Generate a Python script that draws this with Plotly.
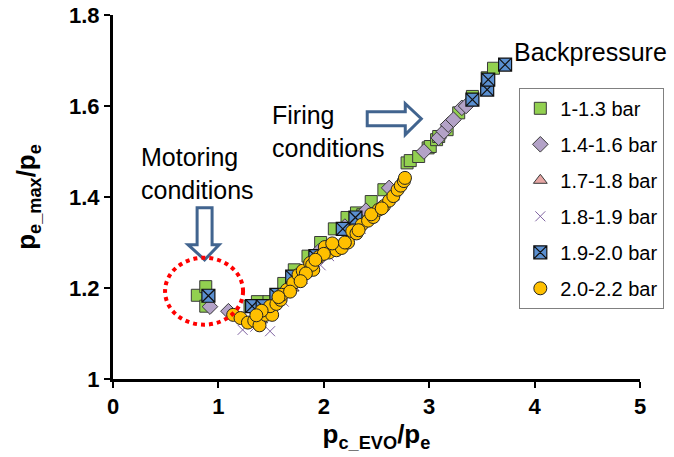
import plotly.graph_objects as go

# ---- data ----
names = ["1-1.3 bar", "1.4-1.6 bar", "1.7-1.8 bar", "1.8-1.9 bar", "1.9-2.0 bar", "2.0-2.2 bar"]

sq_x = [0.80, 0.88, 0.88, 1.30, 1.37, 1.48, 1.62, 1.72, 1.85, 1.97, 2.10, 2.22, 2.31, 2.37, 2.45, 2.57,
        2.79, 2.82, 2.90, 2.99, 3.01, 3.07, 3.09, 3.17, 3.28, 3.41, 3.55, 3.61]
sq_y = [1.184, 1.203, 1.160, 1.160, 1.170, 1.170, 1.210, 1.240, 1.270, 1.300, 1.330, 1.355, 1.365, 1.361, 1.390, 1.416,
        1.475, 1.480, 1.489, 1.508, 1.511, 1.526, 1.533, 1.548, 1.585, 1.621, 1.662, 1.683]

dm_x = [0.92, 1.095, 1.35, 1.55, 1.75, 1.95, 2.20, 2.40, 2.62, 2.95, 3.09, 3.14, 3.18, 3.23, 3.31, 3.35]
dm_y = [1.159, 1.149, 1.150, 1.170, 1.220, 1.280, 1.335, 1.370, 1.420, 1.500, 1.530, 1.544, 1.559, 1.570, 1.596, 1.600]

tr_x = [1.40, 1.70, 2.05, 2.40, 2.65]
tr_y = [1.130, 1.200, 1.280, 1.350, 1.400]

xx_x = [1.23, 1.35, 1.49, 1.62, 1.80, 1.97, 2.05, 2.35, 2.55]
xx_y = [1.108, 1.115, 1.105, 1.170, 1.220, 1.250, 1.270, 1.330, 1.380]

st_x = [0.905, 1.32, 1.42, 1.55, 1.70, 1.92, 2.18, 2.30, 3.41, 3.55, 3.56, 3.72]
st_y = [1.183, 1.160, 1.160, 1.185, 1.225, 1.270, 1.330, 1.355, 1.614, 1.636, 1.658, 1.691]

ci_x = [1.14, 1.21, 1.28, 1.34, 1.39, 1.45, 1.51, 1.49, 1.55, 1.59, 1.65, 1.71, 1.76, 1.80, 1.87, 1.90, 1.89,
        1.95, 2.01, 2.05, 2.12, 2.17, 2.23, 2.27, 2.31, 2.36, 2.42, 2.47, 2.52, 2.57, 2.62, 2.66, 2.70, 2.73,
        2.76, 2.77, 1.41, 1.60, 1.83, 2.00, 2.20, 2.45, 1.68, 1.78, 1.92, 2.08, 2.33, 2.55, 1.57, 1.36]
ci_y = [1.141, 1.134, 1.124, 1.128, 1.118, 1.141, 1.141, 1.160, 1.165, 1.174, 1.196, 1.211, 1.229, 1.238, 1.255,
        1.240, 1.251, 1.268, 1.290, 1.278, 1.283, 1.288, 1.300, 1.325, 1.320, 1.339, 1.348, 1.356, 1.372, 1.380,
        1.392, 1.402, 1.416, 1.425, 1.435, 1.442, 1.150, 1.185, 1.232, 1.275, 1.300, 1.362, 1.192, 1.215, 1.262,
        1.298, 1.327, 1.375, 1.180, 1.140]

x_ticks = [0, 1, 2, 3, 4, 5]
y_ticks = [1, 1.2, 1.4, 1.6, 1.8]

edge = dict(color="#3a3a3a", width=1)
series = [
    (sq_x, sq_y, dict(symbol="square", size=12, color="#92D050", line=edge)),
    (dm_x, dm_y, dict(symbol="diamond", size=12, color="#B3A2C7", line=edge)),
    (tr_x, tr_y, dict(symbol="triangle-up", size=12, color="#E6A6A4", line=edge)),
    (xx_x, xx_y, dict(symbol="x-thin", size=10, color="#8064A2", line=dict(color="#8064A2", width=1))),
    (st_x, st_y, dict(symbol="square-x", size=13, color="#5A8FD0", line=dict(color="#111111", width=1.2))),
    (ci_x, ci_y, dict(symbol="circle", size=13, color="#FFC000", line=dict(color="#222222", width=1))),
]

fig = go.Figure()
for i, (xs, ys, mk) in enumerate(series):
    fig.add_trace(go.Scatter(x=xs, y=ys, mode="markers", name=names[i], marker=mk,
                             legendgroup=f"g{i}"))

arrow_col = "#41648F"
# hollow arrow pointing right (Firing conditions)
fig.add_shape(type="path", xref="x", yref="y",
              path="M 2.412,1.5567 L 2.773,1.5567 L 2.773,1.537 L 2.925,1.572 L 2.773,1.605 L 2.773,1.5875 L 2.412,1.5875 Z",
              line=dict(color=arrow_col, width=3), fillcolor="white")
# hollow arrow pointing down (Motoring conditions)
fig.add_shape(type="path", xref="x", yref="y",
              path="M 0.798,1.3765 L 0.940,1.3765 L 0.940,1.2952 L 1.007,1.2952 L 0.869,1.262 L 0.712,1.2952 L 0.798,1.2952 Z",
              line=dict(color=arrow_col, width=3), fillcolor="white")
# red dotted ellipse
fig.add_shape(type="circle", xref="x", yref="y", x0=0.494, x1=1.234, y0=1.1194, y1=1.2666,
              line=dict(color="#FF0000", width=4, dash="dot"))

txt = dict(family="Arial, Liberation Sans", size=25, color="black")
fig.add_annotation(x=0.247, y=1.451, xref="x", yref="y", text="Motoring<br>conditions", showarrow=False,
                   xanchor="left", yanchor="middle", align="left", font=txt)
fig.add_annotation(x=1.491, y=1.5436, xref="x", yref="y", text="Firing<br>conditions", showarrow=False,
                   xanchor="left", yanchor="middle", align="left", font=txt)
fig.add_annotation(x=3.789, y=1.7193, xref="x", yref="y", text="Backpressure", showarrow=False,
                   xanchor="left", yanchor="middle", align="left", font=txt)

fig.update_layout(
    width=674, height=457,
    margin=dict(l=113, r=34, t=15, b=78, autoexpand=False),
    paper_bgcolor="white", plot_bgcolor="white",
    font=dict(family="Arial, Liberation Sans", color="black"),
    legend=dict(x=0.771, y=0.80, xanchor="left", yanchor="top",
                bordercolor="#808080", borderwidth=1, bgcolor="white",
                font=dict(size=20), tracegroupgap=7, traceorder="grouped"),
    xaxis=dict(range=[0, 5], tickvals=x_ticks, ticktext=[f"<b>{v}</b>" for v in x_ticks],
               showgrid=False, zeroline=False, showline=True, linecolor="black", linewidth=3,
               ticks="outside", ticklen=6, tickwidth=2, tickcolor="black",
               tickfont=dict(size=22), automargin=False,
               title=dict(text="<b>p<sub>c_EVO</sub>/p<sub>e</sub></b>", font=dict(size=26), standoff=4)),
    yaxis=dict(range=[1, 1.8], tickvals=y_ticks, ticktext=[f"<b>{v:g}</b>" for v in y_ticks],
               showgrid=False, zeroline=False, showline=True, linecolor="black", linewidth=3,
               ticks="outside", ticklen=6, tickwidth=2, tickcolor="black",
               tickfont=dict(size=22), automargin=False,
               title=dict(text="<b>p<sub>e_max</sub>/p<sub>e</sub></b>", font=dict(size=26), standoff=26)),
)

fig.write_html("out.html", config={"displayModeBar": False},
               post_script="document.body.style.margin='0px';")
